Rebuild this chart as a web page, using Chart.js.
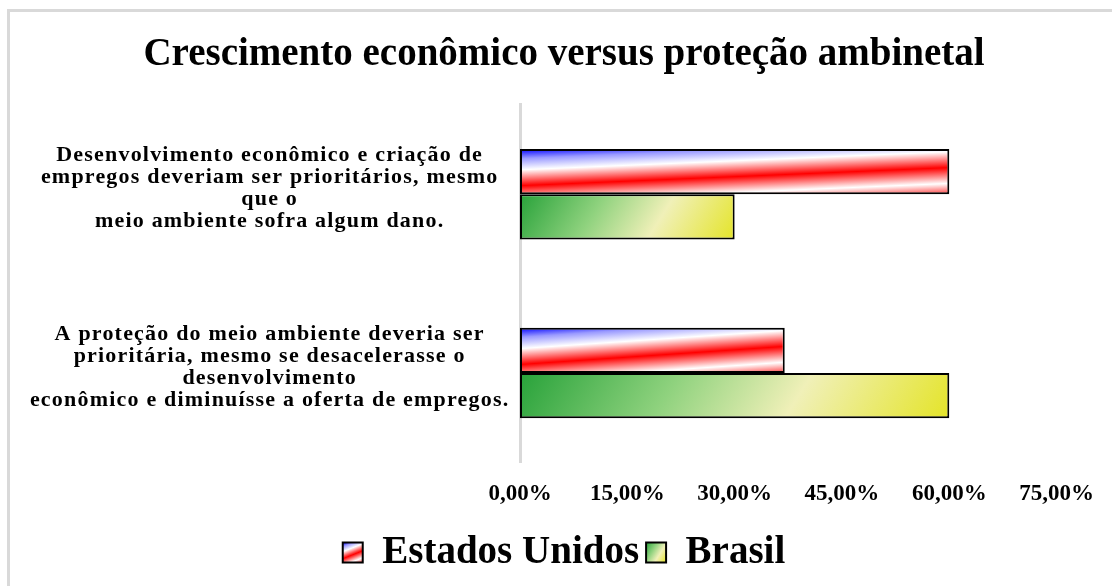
<!DOCTYPE html>
<html>
<head>
<meta charset="utf-8">
<script src="https://cdn.jsdelivr.net/npm/chart.js@4/dist/chart.umd.min.js"></script>
<style>
  html, body { margin: 0; padding: 0; background: #fff; overflow: hidden; }
  #box { position: relative; width: 1112px; height: 586px; }
</style>
</head>
<body>
<div id="box"><canvas id="c"></canvas></div>
<script>
// ---- data ----
const categories = [
  ["Desenvolvimento econômico e criação de", "empregos deveriam ser prioritários, mesmo", "que o", "meio ambiente sofra algum dano."],
  ["A proteção do meio ambiente deveria ser", "prioritária, mesmo se desacelerasse o", "desenvolvimento", "econômico e diminuísse a oferta de empregos."]
];
const seriesNames = ["Estados Unidos", "Brasil"];
const estadosUnidos = [60, 37];
const brasil = [30, 60];
const tickValues = [0, 15, 30, 45, 60, 75];
const tickLabels = ["0,00%", "15,00%", "30,00%", "45,00%", "60,00%", "75,00%"];
const titleText = "Crescimento econômico versus proteção ambinetal";

// ---- fills ----
function usFill(ctx, x, y, w, h) {
  const nx = 0.4 / w / 1.4, ny = 1 / h / 1.4;
  const n2 = nx * nx + ny * ny;
  const g = ctx.createLinearGradient(x, y, x + nx / n2, y + ny / n2);
  g.addColorStop(0, "#0000ff");
  g.addColorStop(0.15, "#9a9aff");
  g.addColorStop(0.33, "#ffffff");
  g.addColorStop(0.58, "#ff0000");
  g.addColorStop(0.83, "#ffffff");
  g.addColorStop(1, "#ff4040");
  return g;
}
function brFill(ctx, x, y, w, h) {
  const c = Math.cos(32 * Math.PI / 180), s = Math.sin(32 * Math.PI / 180);
  const L = w * c + h * s;
  const g = ctx.createLinearGradient(x, y, x + c * L, y + s * L);
  g.addColorStop(0, "#28a23a");
  g.addColorStop(0.35, "#8fd27e");
  g.addColorStop(0.64, "#f0f0b8");
  g.addColorStop(1, "#e4e428");
  return g;
}
const fills = [usFill, brFill];

const fillPlugin = {
  id: "fillPlugin",
  beforeDatasetsDraw(chart) {
    const ctx = chart.ctx;
    chart.data.datasets.forEach((ds, di) => {
      const meta = chart.getDatasetMeta(di);
      meta.data.forEach(el => {
        const p = el.getProps(["x", "y", "base", "height"], true);
        const left = Math.min(p.base, p.x), right = Math.max(p.base, p.x);
        const top = p.y - p.height / 2;
        const g = fills[di](ctx, left, top, right - left, p.height);
        el.options = Object.assign({}, el.options, { backgroundColor: g });
      });
    });
  },
  beforeDraw(chart) {
    const ctx = chart.ctx;
    ctx.save();
    ctx.strokeStyle = "#d9d9d9";
    ctx.lineWidth = 3;
    ctx.beginPath();
    ctx.moveTo(8.5, chart.height + 5);
    ctx.lineTo(8.5, 10.5);
    ctx.lineTo(chart.width + 5, 10.5);
    ctx.stroke();
    ctx.restore();
    const lg = chart.legend;
    if (!lg || !lg.legendItems) return;
    const bw = lg.options.labels.boxWidth, bh = lg.options.labels.boxHeight;
    lg.legendItems.forEach((it, i) => {
      const hb = lg.legendHitBoxes[i];
      if (!hb) return;
      const top = hb.top + (hb.height - bh) / 2;
      it.fillStyle = fills[i](chart.ctx, hb.left, top, bw, bh);
    });
  }
};

const serif = "'Liberation Serif', 'Times New Roman', serif";

new Chart(document.getElementById("c"), {
  type: "bar",
  data: {
    labels: categories,
    datasets: [
      { label: seriesNames[0], data: estadosUnidos, backgroundColor: "#ff4040", borderColor: "#000", borderWidth: 2, borderSkipped: false },
      { label: seriesNames[1], data: brasil, backgroundColor: "#9fd27e", borderColor: "#000", borderWidth: 2, borderSkipped: false }
    ]
  },
  options: {
    indexAxis: "y",
    responsive: true,
    maintainAspectRatio: false,
    animation: false,
    layout: { padding: { left: 45, right: 29, top: 21, bottom: 4 } },
    datasets: { bar: { categoryPercentage: 0.506, barPercentage: 1 } },
    scales: {
      x: {
        min: 0, max: 75,
        afterBuildTicks(scale) { scale.ticks = tickValues.map(v => ({ value: v })); },
        ticks: {
          callback(v) { const i = tickValues.indexOf(v); return i >= 0 ? tickLabels[i] : ""; },
          color: "#000",
          font: { family: serif, size: 23, weight: "bold" },
          padding: 18,
          maxRotation: 0
        },
        grid: { display: false, drawTicks: false },
        border: { display: false }
      },
      y: {
        afterFit(scale) {
          scale.width = 475;
          if (!scale._lsWrapped) {
            scale._computeLabelArea = function () { return undefined; };
            const orig = scale.drawLabels;
            scale.drawLabels = function (area) {
              const c = this.ctx;
              c.save();
              c.letterSpacing = "1.2px";
              c.translate(0, -6);
              orig.call(this, area);
              c.restore();
            };
            scale._lsWrapped = true;
          }
        },
        ticks: {
          color: "#000",
          crossAlign: "center",
          font: { family: serif, size: 22, weight: "bold", lineHeight: 1.0 },
          padding: 37
        },
        grid: { display: false, drawTicks: false },
        border: { display: true, color: "#d9d9d9", width: 3 }
      }
    },
    plugins: {
      title: {
        display: true,
        text: titleText,
        color: "#000",
        font: { family: serif, size: 39, weight: "bold" },
        padding: { top: 11, bottom: 26 }
      },
      legend: {
        position: "bottom",
        labels: {
          color: "#000",
          font: { family: serif, size: 39, weight: "bold" },
          boxWidth: 20,
          boxHeight: 20,
          padding: 7
        }
      },
      tooltip: { enabled: false }
    }
  },
  plugins: [fillPlugin]
});
</script>
</body>
</html>
